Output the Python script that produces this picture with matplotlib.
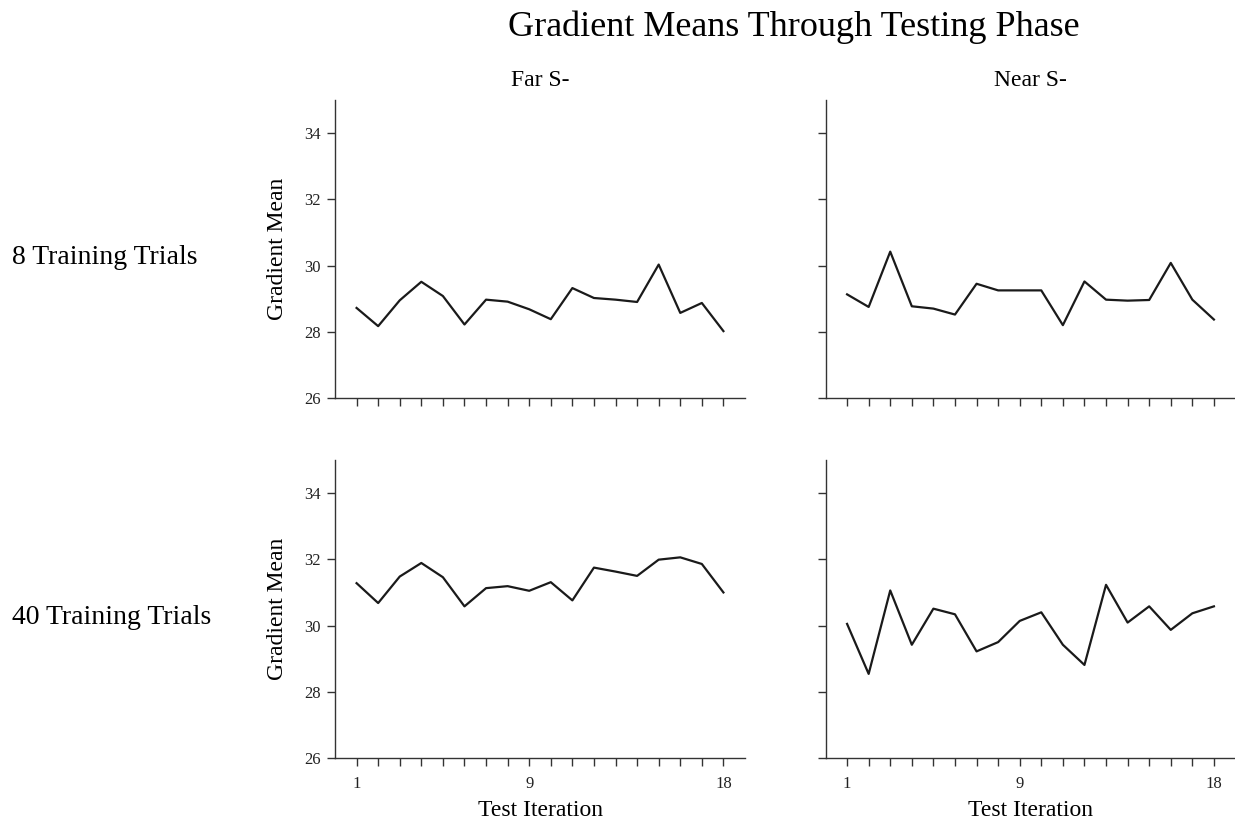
import numpy as np
import matplotlib
matplotlib.use("Agg")
import matplotlib.pyplot as plt

plt.rcParams['font.family'] = ['Liberation Serif', 'DejaVu Serif']

iters = np.arange(1, 19)

far_8 = [28.72, 28.17, 28.95, 29.51, 29.08, 28.22, 28.97, 28.91, 28.68,
         28.38, 29.32, 29.02, 28.97, 28.90, 30.03, 28.57, 28.87, 28.02]
near_8 = [29.13, 28.75, 30.42, 28.77, 28.70, 28.52, 29.45, 29.25, 29.25,
          29.25, 28.20, 29.52, 28.97, 28.94, 28.96, 30.08, 28.97, 28.37]
far_40 = [31.28, 30.68, 31.48, 31.89, 31.46, 30.58, 31.13, 31.19, 31.05,
          31.31, 30.76, 31.75, 31.63, 31.50, 31.99, 32.06, 31.86, 31.00]
near_40 = [30.05, 28.54, 31.06, 29.42, 30.51, 30.34, 29.22, 29.50, 30.14,
           30.40, 29.42, 28.81, 31.23, 30.09, 30.58, 29.87, 30.37, 30.58]

col_titles = ["Far S-", "Near S-"]
row_titles = ["8 Training Trials", "40 Training Trials"]
yticks = [26, 28, 30, 32, 34]
xticklabels = {1: "1", 9: "9", 18: "18"}

data = [[far_8, near_8], [far_40, near_40]]

fig = plt.figure(figsize=(12.35, 8.24), dpi=100)

lefts = [335 / 1235, 825.5 / 1235]
bottoms = [(824 - 398) / 824, (824 - 758) / 824]
w = 410 / 1235
h = 298 / 824

for r in range(2):
    for c in range(2):
        ax = fig.add_axes([lefts[c], bottoms[r], w, h])
        ax.plot(iters, data[r][c], color='#1a1a1a', lw=1.6)
        ax.set_xlim(0, 19)
        ax.set_ylim(26, 35)
        ax.set_xticks(iters)
        ax.set_yticks(yticks)
        ax.spines['top'].set_visible(False)
        ax.spines['right'].set_visible(False)
        for s in ['left', 'bottom']:
            ax.spines[s].set_color('#333333')
            ax.spines[s].set_linewidth(1.0)
        ax.tick_params(length=6, width=1, color='#333333', labelsize=12,
                       labelcolor='#222222', pad=4)
        ax.tick_params(axis='x', pad=7)
        if c == 0:
            ax.set_yticklabels([str(t) for t in yticks])
            ax.set_ylabel("Gradient Mean", fontsize=17, labelpad=12)
        else:
            ax.set_yticklabels([])
        if r == 1:
            ax.set_xticklabels([xticklabels.get(i, "") for i in iters])
            ax.set_xlabel("Test Iteration", fontsize=17, labelpad=6)
        else:
            ax.set_xticklabels([])
        if r == 0:
            ax.set_title(col_titles[c], fontsize=17, pad=10)

fig.text(794 / 1235, 1 - 27 / 824, "Gradient Means Through Testing Phase",
         ha='center', va='center', fontsize=26)
for r, lab in enumerate(row_titles):
    yc = bottoms[r] + h / 2 - 8 / 824
    fig.text(12 / 1235, yc, lab, ha='left', va='center', fontsize=20)

fig.savefig("out.png", dpi=100)
